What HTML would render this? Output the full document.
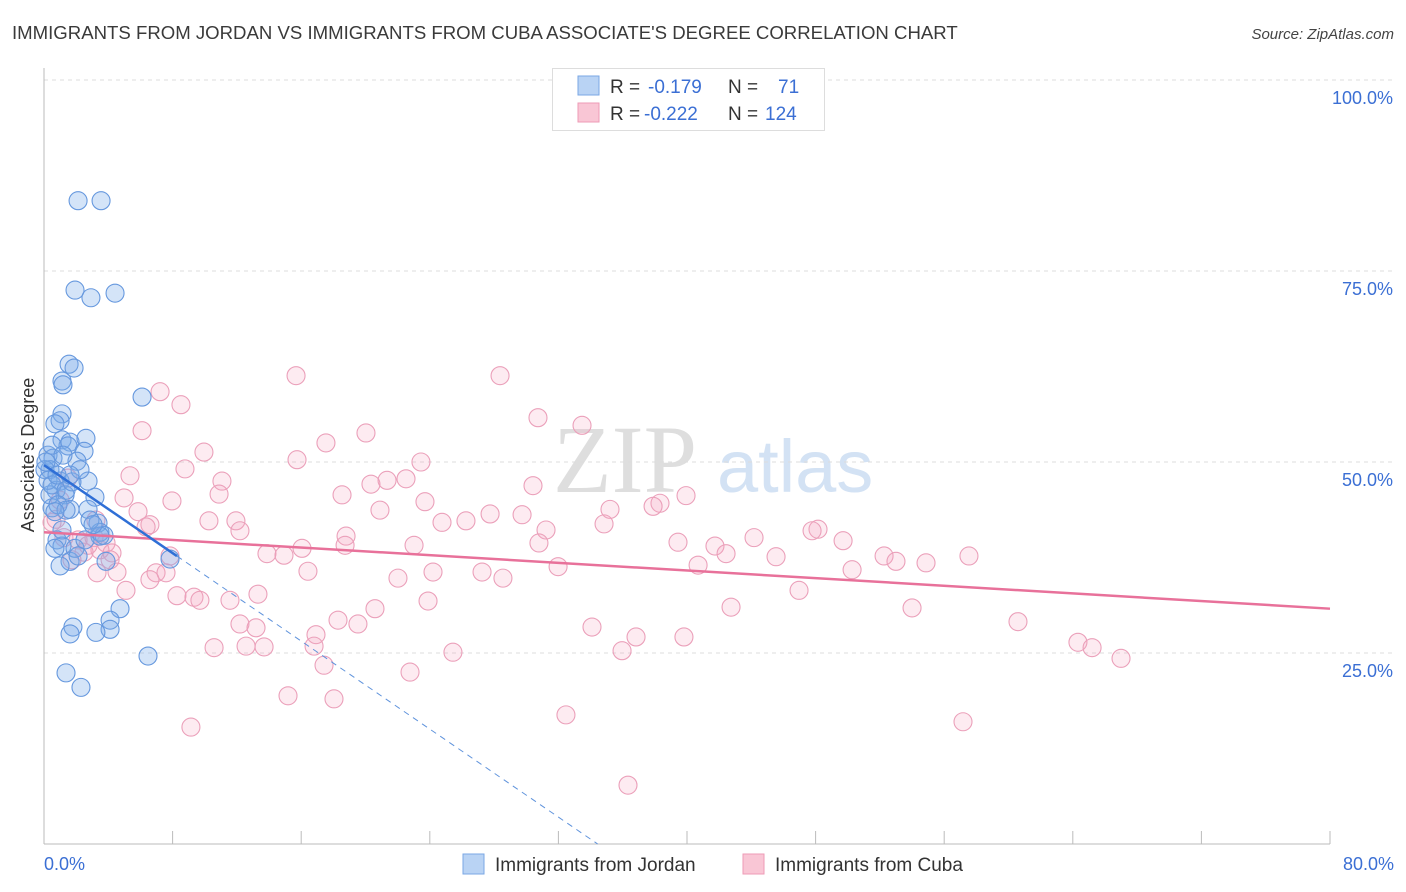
<!DOCTYPE html>
<html><head><meta charset="utf-8"><style>
body{margin:0;background:#fff;font-family:"Liberation Sans",sans-serif;}
svg{display:block}
</style></head><body>
<svg id="chart" width="1406" height="892" xmlns="http://www.w3.org/2000/svg">
<text x="12" y="39" font-size="18.6" fill="#3a3a3a">IMMIGRANTS FROM JORDAN VS IMMIGRANTS FROM CUBA ASSOCIATE'S DEGREE CORRELATION CHART</text>
<text x="1394" y="39" font-size="15" fill="#444" font-style="italic" text-anchor="end">Source: ZipAtlas.com</text>
<g>
<text x="553" y="492" font-size="96" font-family="Liberation Serif,serif" fill="#dedede">ZIP</text>
<text x="717" y="492" font-size="74" fill="#d3e2f4">atlas</text>
</g>
<g id="grid"></g>
<g id="axes"></g>
<g id="marks"></g>
<g>
<rect x="552.5" y="68.5" width="272" height="62" fill="#fff" stroke="#ddd"/>
<rect x="578" y="76" width="21" height="19" fill="#b9d3f4" stroke="#7aa7e4"/>
<rect x="578" y="103" width="21" height="19" fill="#f9c6d5" stroke="#ee9bb6"/>
<text x="610" y="93" font-size="19" fill="#333">R = <tspan fill="#3b6fd4" x="648">-0.179</tspan><tspan x="728" fill="#333">N =</tspan><tspan x="778" fill="#3b6fd4">71</tspan></text>
<text x="610" y="120" font-size="19" fill="#333">R = <tspan fill="#3b6fd4" x="644">-0.222</tspan><tspan x="728" fill="#333">N =</tspan><tspan x="765" fill="#3b6fd4">124</tspan></text>
</g>
<g>
<rect x="463" y="854" width="21" height="20" fill="#b9d3f4" stroke="#7aa7e4"/>
<text x="495" y="871" font-size="19" fill="#333">Immigrants from Jordan</text>
<rect x="743" y="854" width="21" height="20" fill="#f9c6d5" stroke="#ee9bb6"/>
<text x="775" y="871" font-size="19" fill="#333">Immigrants from Cuba</text>
</g>
<text transform="translate(34,455) rotate(-90)" font-size="18" fill="#333" text-anchor="middle">Associate's Degree</text>
</svg>
<script>
const yTicks=[25,50,75,100];
const yTickLabels=["25.0%","50.0%","75.0%","100.0%"];
const xEndLabels=["0.0%","80.0%"];
const jordanX=[2.12,3.55,1.93,2.92,4.42,1.56,1.87,1.12,1.18,6.10,1.12,1.00,0.68,1.12,1.62,2.61,1.49,2.49,0.25,0.56,2.05,0.37,2.74,1.00,0.75,1.31,3.17,0.50,1.62,2.74,3.36,3.48,0.81,1.12,3.73,1.62,3.86,1.00,7.84,0.68,4.73,4.11,4.11,3.23,1.80,1.62,6.47,1.37,2.30,0.37,0.06,0.25,0.50,0.81,1.37,1.74,2.24,1.12,1.93,2.86,0.87,0.12,0.50,1.62,1.18,3.48,1.37,2.55,2.12,0.68,3.05];
const jordanY=[84.2,84.2,72.5,71.5,72.1,62.8,62.3,60.6,60.1,58.5,56.3,55.4,55.0,52.9,52.6,53.1,52.1,51.4,50.9,50.5,50.1,49.0,47.5,47.5,46.3,45.7,45.4,44.0,43.8,43.8,42.0,40.8,39.8,39.0,40.4,37.0,37.0,36.4,37.3,38.7,30.8,29.3,28.1,27.7,28.4,27.5,24.6,22.4,20.5,45.7,49.0,47.6,47.0,48.3,46.3,47.4,49.0,41.1,38.7,42.4,44.4,50.0,52.2,48.3,50.9,40.3,43.7,39.8,37.7,43.5,41.8];
const cubaX=[15.68,28.37,7.22,30.73,8.52,33.47,6.10,20.03,17.54,9.95,15.74,23.45,8.77,5.35,11.07,21.34,22.52,20.34,30.42,10.89,18.54,4.98,7.96,23.70,38.32,39.94,37.89,35.21,20.90,5.85,0.75,10.26,6.59,6.35,11.94,24.76,26.25,27.75,29.74,34.84,31.23,12.19,18.79,1.24,2.12,3.11,3.86,18.73,30.79,39.44,48.15,47.78,44.17,49.71,41.74,3.48,4.23,13.87,14.93,16.05,23.02,42.43,45.54,52.26,53.00,54.87,57.54,50.27,3.30,4.54,6.97,7.59,16.42,24.20,27.25,28.55,31.98,40.69,5.10,8.27,9.33,9.70,11.57,13.31,22.02,23.89,20.59,18.29,12.19,13.19,19.53,34.09,42.74,46.97,54.00,60.59,16.92,36.83,39.81,64.32,65.20,67.00,10.58,12.57,13.69,16.80,25.44,35.96,17.42,22.77,15.18,18.04,32.47,57.17,9.14,36.33,7.84,2.49,1.49,0.50,3.23,1.00,1.74,2.74,4.11,6.59];
const cubaY=[61.3,61.3,59.2,55.8,57.5,54.8,54.1,53.8,52.5,51.3,50.3,50.0,49.1,48.2,47.5,47.6,47.8,47.1,46.9,45.8,45.7,45.3,44.9,44.8,44.6,45.6,44.2,43.8,43.7,43.5,42.5,42.3,41.8,41.5,42.3,42.1,42.3,43.2,43.1,41.9,41.1,41.0,40.3,40.1,39.8,40.1,39.4,39.1,39.4,39.5,41.2,41.0,40.1,39.7,39.0,38.5,38.1,38.0,37.8,38.7,39.1,38.0,37.6,37.7,37.0,36.8,37.7,35.9,35.5,35.6,35.5,35.5,35.7,35.6,35.6,34.8,36.3,36.5,33.2,32.5,32.3,31.9,31.9,32.7,34.8,31.8,30.8,29.3,28.8,28.3,28.8,28.4,31.0,33.2,30.9,29.1,27.4,27.1,27.1,26.4,25.7,24.3,25.7,25.9,25.8,25.9,25.1,25.3,23.4,22.5,19.4,19.0,16.9,16.0,15.3,7.7,37.7,38.2,47.9,42.1,42.4,45.0,37.2,39.1,37.2,34.6];
const jordanTrend=[49.6,-1.44]; // intercept, slope
const jordanSolidEnd=8.27;
const cubaTrend=[40.8,-0.125];

const NS="http://www.w3.org/2000/svg";
const X0=44,X1=1330,Y0=844,Y100=80;
const sx=v=>X0+v/80*(X1-X0);
const sy=v=>Y0-v/100*(Y0-Y100);
function mk(tag,attrs,parent){const e=document.createElementNS(NS,tag);for(const k in attrs)e.setAttribute(k,attrs[k]);parent.appendChild(e);return e;}
const grid=document.getElementById('grid'),axes=document.getElementById('axes'),marks=document.getElementById('marks');
yTicks.forEach((t,i)=>{
  const l=mk('line',{x1:X0,x2:1394,y1:sy(t),y2:sy(t),stroke:'#dcdcdc','stroke-dasharray':'4,4'},grid);
  
  
  const tx=mk('text',{x:1393,y:sy(t)+24,'font-size':18,fill:'#3b6fd4','text-anchor':'end'},grid);
  tx.textContent=yTickLabels[i];
  
  
});
const ya=mk('line',{x1:X0,x2:X0,y1:68,y2:Y0,stroke:'#bbb'},axes);


const xa=mk('line',{x1:X0,x2:X1,y1:Y0,y2:Y0,stroke:'#bbb'},axes);


for(let v=8;v<=80;v+=8){
  const t=mk('line',{x1:sx(v),x2:sx(v),y1:Y0-13,y2:Y0,stroke:'#bbb'},axes);
  
  
}
[[0,'start',44],[80,'end',1394]].forEach((d,i)=>{
  const t=mk('text',{x:d[2],y:870,'font-size':18,fill:'#3b6fd4','text-anchor':d[1]},axes);
  t.textContent=xEndLabels[i];
  
  
});
function pts(xs,ys,fill,stroke,name){
  xs.forEach((x,i)=>{
    const c=mk('circle',{cx:sx(x),cy:sy(ys[i]),r:9,fill:fill,stroke:stroke,'stroke-width':1.1},marks);
    
    
  });
}
pts(cubaX,cubaY,'rgba(245,165,190,0.22)','#eba0ba','cuba-point');
pts(jordanX,jordanY,'rgba(120,170,232,0.32)','#6698de','jordan-point');
const cl=mk('line',{x1:sx(0),y1:sy(cubaTrend[0]),x2:sx(80),y2:sy(cubaTrend[0]+cubaTrend[1]*80),stroke:'#e8719a','stroke-width':2.5},marks);


const jl=mk('line',{x1:sx(0),y1:sy(jordanTrend[0]),x2:sx(jordanSolidEnd),y2:sy(jordanTrend[0]+jordanTrend[1]*jordanSolidEnd),stroke:'#2f6fd6','stroke-width':2.5},marks);


const xz=-jordanTrend[0]/jordanTrend[1];
const jd=mk('line',{x1:sx(jordanSolidEnd),y1:sy(jordanTrend[0]+jordanTrend[1]*jordanSolidEnd),x2:sx(xz),y2:sy(0),stroke:'#5f93dc','stroke-width':1,'stroke-dasharray':'6,5'},marks);


</script>
</body></html>
